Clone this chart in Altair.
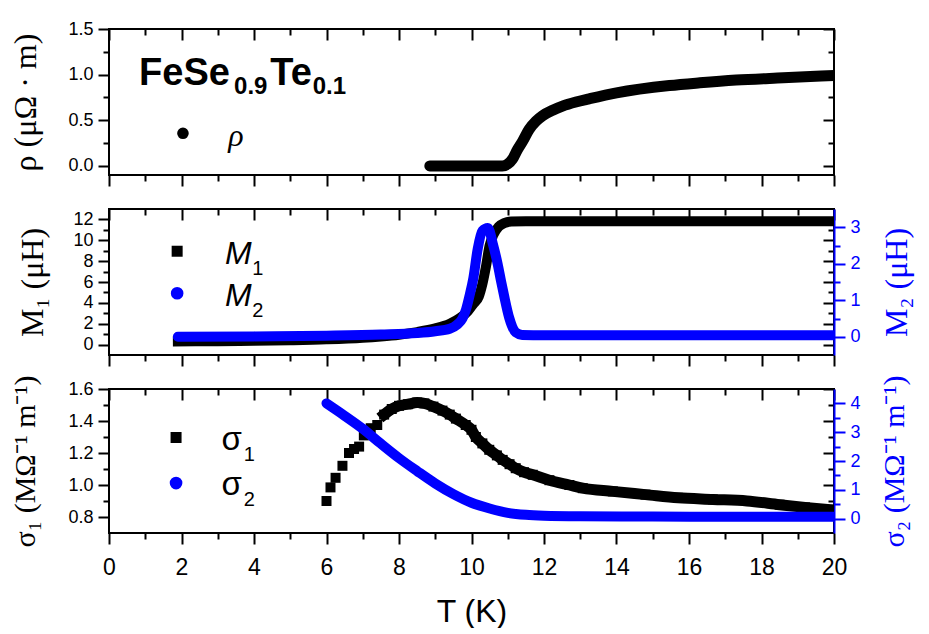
import altair as alt
import pandas as pd

# ---------------- values ----------------
# resistivity rho (uOhm m) vs T (K)
rho_T = [8.85, 9.5, 10.0, 10.5, 10.85, 11.0, 11.13, 11.27, 11.41, 11.59, 11.78, 11.96,
         12.24, 12.51, 12.88, 13.25, 14.0, 15.46, 16.3, 17.3, 18.6, 20.0]
rho_v = [0.0, 0.0, 0.0, 0.0, 0.0, 0.02, 0.073, 0.18, 0.27, 0.40, 0.49, 0.55,
         0.61, 0.655, 0.70, 0.735, 0.80, 0.88, 0.91, 0.94, 0.965, 0.99]

# M1 (uH, left axis)
m1_T = [1.9, 3.0, 4.0, 5.0, 6.0, 7.0, 7.5, 8.0, 8.5, 9.0, 9.4, 9.7, 9.9, 10.05,
        10.2, 10.3, 10.4, 10.5, 10.6, 10.75, 10.9, 11.1, 11.5, 20.0]
m1_v = [0.3, 0.33, 0.37, 0.42, 0.5, 0.65, 0.78, 0.95, 1.2, 1.55, 2.0, 2.6, 3.2, 3.9,
        4.6, 5.8, 7.5, 9.5, 10.5, 11.3, 11.65, 11.8, 11.82, 11.82]

# M2 (uH, right axis)
m2_T = [1.9, 4.0, 6.0, 7.5, 8.5, 9.0, 9.4, 9.6, 9.75, 9.85, 9.94, 10.05, 10.17, 10.3,
        10.45, 10.6, 10.72, 10.82, 10.9, 11.04, 11.22, 11.4, 12.0, 20.0]
m2_v = [0.0, 0.01, 0.03, 0.06, 0.1, 0.15, 0.22, 0.33, 0.5, 0.75, 1.1, 1.6, 2.4, 2.9,
        2.98, 2.5, 2.0, 1.5, 1.12, 0.52, 0.12, 0.05, 0.04, 0.04]

# sigma1 (MOhm^-1 m^-1, left axis)
s1_T = [6.0, 6.11, 6.25, 6.44, 6.62, 6.76, 6.9, 7.03, 7.22, 7.4, 7.59, 7.8, 8.0, 8.25,
        8.5, 8.7, 8.95, 9.2, 9.4, 9.57, 9.84, 10.0, 10.12, 10.3, 10.49, 10.7, 10.86,
        11.05, 11.22, 11.45, 11.69, 12.15, 12.7, 13.07, 13.9, 14.8, 15.7, 16.66, 17.6,
        18.5, 19.2, 19.9]
s1_v = [0.90, 0.985, 1.045, 1.12, 1.20, 1.225, 1.24, 1.31, 1.355, 1.375, 1.44, 1.475,
        1.495, 1.505, 1.515, 1.51, 1.49, 1.465, 1.44, 1.415, 1.375, 1.345, 1.30, 1.26,
        1.22, 1.185, 1.157, 1.13, 1.105, 1.08, 1.064, 1.03, 1.0, 0.98, 0.96, 0.94, 0.92,
        0.91, 0.90, 0.877, 0.86, 0.845]

# sigma2 (MOhm^-1 m^-1, right axis)
s2_T = [6.0, 6.5, 7.0, 7.5, 8.0, 8.5, 9.0, 9.5, 10.0, 10.5, 11.0, 11.5, 12.0, 13.0,
        15.0, 17.0, 20.0]
s2_v = [4.0, 3.57, 3.12, 2.6, 2.1, 1.65, 1.22, 0.85, 0.55, 0.35, 0.2, 0.13, 0.1, 0.08,
        0.07, 0.065, 0.06]

# tick values
X_MAJOR = list(range(0, 21, 2))
X_MINOR = list(range(1, 20, 2))
RHO_MAJ = [0.0, 0.5, 1.0, 1.5]
RHO_MIN = [0.25, 0.75, 1.25]
M1_MAJ = [0, 2, 4, 6, 8, 10, 12]
M1_MIN = [1, 3, 5, 7, 9, 11]
M2_MAJ = [0, 1, 2, 3]
M2_MIN = [0.5, 1.5, 2.5]
S1_MAJ = [0.8, 1.0, 1.2, 1.4, 1.6]
S1_MIN = [0.9, 1.1, 1.3, 1.5]
S2_MAJ = [0, 1, 2, 3, 4]
S2_MIN = [0.5, 1.5, 2.5, 3.5]

# annotation texts (positions in data units)
title_big = ["FeSe", "Te"]
title_big_T = [0.83, 4.45]
title_big_v = [0.881, 0.881]
title_sub = ["0.9", "0.1"]
title_sub_T = [3.45, 5.62]
title_sub_v = [0.783, 0.783]

BLUE = "#0000ff"
W = 725
MAJ, MIN = 11, 6


def df(T, v, labels=None):
    d = pd.DataFrame({"T": T, "v": v})
    if labels is not None:
        d["label"] = labels
    return d


def sx():
    return alt.Scale(domain=[0, 20], nice=False, zero=False)


def sy(dom):
    return alt.Scale(domain=dom, nice=False, zero=False)


def ghost(data, dom, xaxis, yaxis):
    return alt.Chart(data).mark_point(opacity=0, size=1).encode(
        x=alt.X("T:Q", scale=sx(), axis=xaxis),
        y=alt.Y("v:Q", scale=sy(dom), axis=yaxis),
    )


def frame(data, dom, ymaj, ymin, yfmt, ytitle, ytitle_x, ytitle_size, bottom_labels):
    if bottom_labels:
        xb = alt.Axis(orient="bottom", values=X_MAJOR, tickSize=MAJ, format="d",
                      labelFontSize=23, labelPadding=12, labelFlush=False,
                      labelOverlap=False, title="T (K)", titleFontSize=32,
                      titlePadding=17)
    else:
        xb = alt.Axis(orient="bottom", values=X_MAJOR, tickSize=MAJ, labels=False,
                      title=None)
    A = ghost(data, dom, xb,
              alt.Axis(orient="left", values=ymaj, tickSize=MAJ, format=yfmt,
                       labelPadding=5, labelFlush=False, labelOverlap=False,
                       title=ytitle, titleFont="Liberation Serif",
                       titleFontSize=ytitle_size, titleX=ytitle_x))
    B = ghost(data, dom,
              alt.Axis(orient="bottom", values=X_MINOR, tickSize=MIN, labels=False, title=None),
              alt.Axis(orient="left", values=ymin, tickSize=MIN, labels=False, title=None))
    C = ghost(data, dom,
              alt.Axis(orient="top", values=X_MAJOR, tickSize=MAJ, offset=-MAJ,
                       labels=False, title=None),
              alt.Axis(orient="right", values=ymaj, tickSize=MAJ, offset=-MAJ,
                       labels=False, title=None))
    D = ghost(data, dom,
              alt.Axis(orient="top", values=X_MINOR, tickSize=MIN, offset=-MIN,
                       labels=False, title=None),
              alt.Axis(orient="right", values=ymin, tickSize=MIN, offset=-MIN,
                       labels=False, title=None))
    return [A, B, C, D]


def blue_axis(data, dom, ymaj, ymin, title, title_x, title_size):
    E = alt.Chart(data).mark_point(opacity=0, size=1).encode(
        x=alt.X("T:Q", scale=sx(), axis=None),
        y=alt.Y("v:Q", scale=sy(dom),
                axis=alt.Axis(orient="right", values=ymaj, tickSize=MAJ, format="d",
                              labelColor=BLUE, tickColor=BLUE, domain=True,
                              domainColor=BLUE, domainWidth=2, labelPadding=5,
                              labelFlush=False, labelOverlap=False,
                              title=title, titleColor=BLUE, titleFont="Liberation Serif",
                              titleFontSize=title_size, titleAngle=270,
                              titleBaseline="top", titleX=title_x)))
    F = alt.Chart(data).mark_point(opacity=0, size=1).encode(
        x=alt.X("T:Q", scale=sx(), axis=None),
        y=alt.Y("v:Q", scale=sy(dom),
                axis=alt.Axis(orient="right", values=ymin, tickSize=MIN,
                              tickColor=BLUE, labels=False, title=None)))
    return [E, F]


def band(data, dom, color, width, cap):
    return alt.Chart(data).mark_line(color=color, strokeWidth=width, strokeCap=cap,
                                     strokeJoin="round", clip=True,
                                     interpolate="monotone").encode(
        x=alt.X("T:Q", scale=sx(), axis=None),
        y=alt.Y("v:Q", scale=sy(dom), axis=None))


def squares(data, dom, size):
    return alt.Chart(data).mark_square(color="black", size=size, opacity=1,
                                       clip=True).encode(
        x=alt.X("T:Q", scale=sx(), axis=None),
        y=alt.Y("v:Q", scale=sy(dom), axis=None))


def marker(data, dom, shape, color, size):
    return alt.Chart(data).mark_point(shape=shape, filled=True, opacity=1,
                                      color=color, size=size).encode(
        x=alt.X("T:Q", scale=sx(), axis=None),
        y=alt.Y("v:Q", scale=sy(dom), axis=None))


def texts(data, dom, size, style="normal", weight="normal", font="Liberation Sans"):
    return alt.Chart(data).mark_text(align="left", baseline="alphabetic", fontSize=size,
                                     fontStyle=style, fontWeight=weight, font=font,
                                     color="black").encode(
        x=alt.X("T:Q", scale=sx(), axis=None),
        y=alt.Y("v:Q", scale=sy(dom), axis=None),
        text="label:N")


def panel(layers, h):
    return alt.layer(*layers).resolve_scale(y="independent").resolve_axis(
        x="independent", y="independent").properties(width=W, height=h)


# ---------------- panel 1 : rho ----------------
D1 = [-0.1, 1.5]
rho_df = df(rho_T, rho_v)
p1 = panel(
    frame(rho_df, D1, RHO_MAJ, RHO_MIN, ".1f", "ρ (μΩ · m)", -67, 32, False)
    + [
        band(rho_df, D1, "black", 11, "round"),
        texts(df(title_big_T, title_big_v, title_big), D1, 38, weight="bold"),
        texts(df(title_sub_T, title_sub_v, title_sub), D1, 24, weight="bold"),
        marker(df([2.04], [0.357]), D1, "circle", "black", 135),
        texts(df([3.29], [0.218], ["ρ"]), D1, 32, style="italic", font="Liberation Serif"),
    ],
    146,
)

# ---------------- panel 2 : M1, M2 ----------------
D2L = [-1, 13]
D2R = [-0.5, 3.5]
m1_df = df(m1_T, m1_v)
m2_df = df(m2_T, m2_v)
p2 = panel(
    frame(m1_df, D2L, M1_MAJ, M1_MIN, "d", "M₁ (μH)", -60, 32, False)
    + [
        band(m1_df, D2L, "black", 10, "square"),
        band(m2_df, D2R, BLUE, 10, "round"),
        marker(df([1.88], [8.95]), D2L, "square", "black", 121),
        marker(df([1.88], [4.92]), D2L, "circle", BLUE, 160),
        texts(df([3.2, 3.2], [7.7, 3.7], ["M", "M"]), D2L, 32, style="italic"),
        texts(df([3.95, 3.95], [6.65, 2.62], ["1", "2"]), D2L, 20),
    ]
    + blue_axis(m2_df, D2R, M2_MAJ, M2_MIN, "M₂ (μH)", 47, 32),
    146,
)

# ---------------- panel 3 : sigma1, sigma2 ----------------
D3L = [0.7, 1.6]
D3R = [-0.5, 4.5]
s1_df = df(s1_T, s1_v)
s2_df = df(s2_T, s2_v)
s1_band = band(s1_df, D3L, "black", 11, "square").transform_filter("datum.T >= 7.5")
p3 = panel(
    frame(s1_df, D3L, S1_MAJ, S1_MIN, ".1f", "σ₁ (MΩ⁻¹ m⁻¹)", -69, 30, True)
    + [
        s1_band,
        squares(s1_df, D3L, 100),
        band(s2_df, D3R, BLUE, 10, "round"),
        marker(df([1.85], [1.297]), D3L, "square", "black", 121),
        marker(df([1.85], [1.012]), D3L, "circle", BLUE, 160),
        texts(df([3.1, 3.1], [1.218, 0.937], ["σ", "σ"]), D3L, 33),
        texts(df([3.72, 3.72], [1.149, 0.869], ["1", "2"]), D3L, 20),
    ]
    + blue_axis(s2_df, D3R, S2_MAJ, S2_MIN, "σ₂ (MΩ⁻¹ m⁻¹)", 45, 30),
    144,
)

chart = alt.VConcatChart(vconcat=[p1, p2, p3], spacing=34, bounds="flush").properties(
    padding={"left": 0, "top": 11, "right": 5, "bottom": 0},
    background="white",
).configure_view(stroke="black", strokeWidth=2).configure_axis(
    grid=False, domain=False, tickColor="black", tickWidth=2, labelColor="black",
    titleColor="black", labelFont="Liberation Sans", titleFont="Liberation Sans",
    labelFontSize=18, titleFontWeight="normal",
)

chart.save("out.html", embed_options={"renderer": "svg", "actions": False})
